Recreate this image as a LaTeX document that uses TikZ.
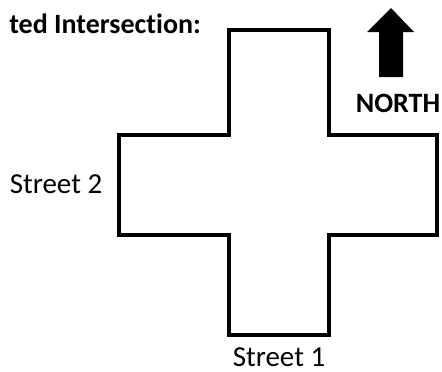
\documentclass[tikz,border=0pt]{standalone}
\usepackage{fontspec}
\setmainfont{Carlito}[Ligatures={NoCommon}]
\begin{document}
\begin{tikzpicture}[x=1pt,y=-1pt,
  lbl/.style={inner sep=0pt,font=\fontsize{29}{31}\selectfont},
  blbl/.style={inner sep=0pt,font=\fontsize{28}{31}\selectfont\bfseries},
  road/.style={line width=4.5pt,draw=black,fill=white,line join=miter}]
\useasboundingbox (0,0) rectangle (442,372);
\draw[road] (229,30) -- (329,30) -- (329,135) -- (437,135) -- (437,235) -- (329,235) -- (329,335) -- (229,335) -- (229,235) -- (119,235) -- (119,135) -- (229,135) -- cycle;
\fill[black] (391,8) -- (414,32) -- (403,32) -- (403,77) -- (379,77) -- (379,32) -- (367,32) -- cycle;
\node[blbl,anchor=base east] (title) at (201,33) {ted Intersection:};
\node[blbl,anchor=base] (north) at (398,112) {NORTH};
\node[lbl,anchor=base] (s2) at (56,193) {Street 2};
\node[lbl,anchor=base] (s1) at (279,366) {Street 1};
\end{tikzpicture}
\end{document}
